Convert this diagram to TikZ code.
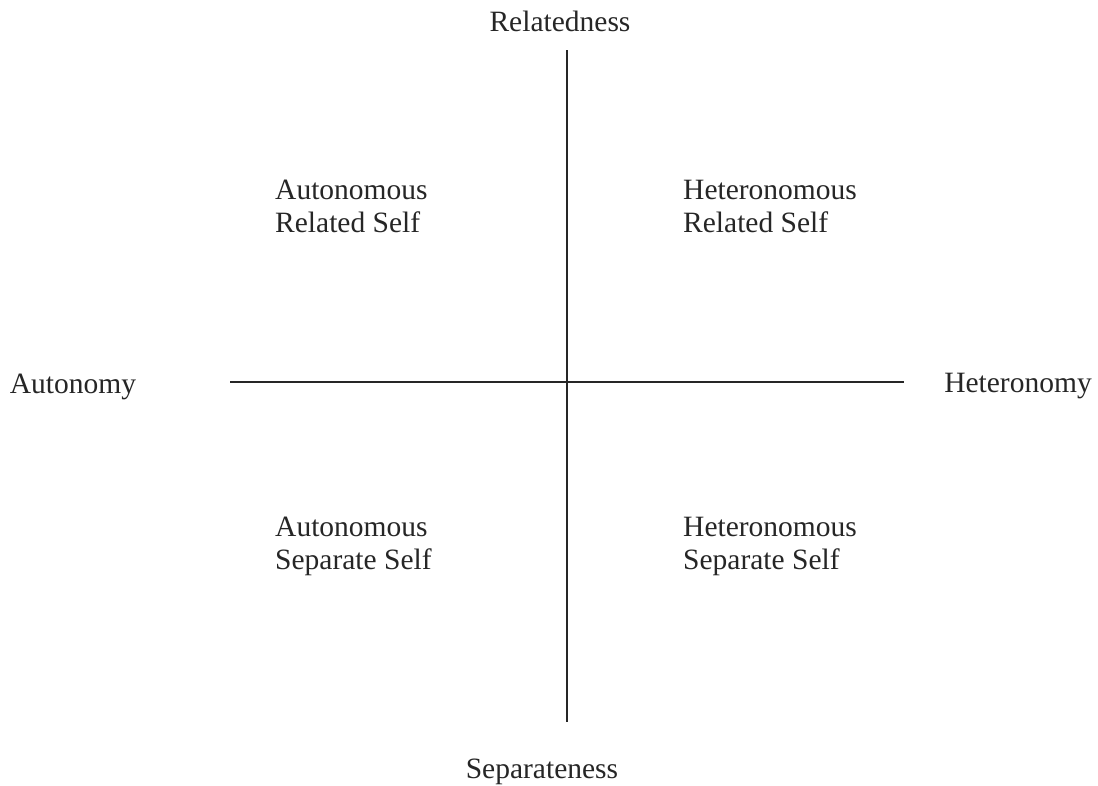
\documentclass[tikz,border=0pt]{standalone}
\usepackage{fontspec}
\setmainfont{Liberation Serif}
\begin{document}
\begin{tikzpicture}[x=1pt,y=-1pt,
  axis/.style={line width=1.4pt,draw=black!85},
  lbl/.style={inner sep=0pt,anchor=base,font=\fontsize{29.5}{33}\selectfont,text=black!85},
  qlbl/.style={inner sep=0pt,anchor=base west,font=\fontsize{29.5}{33}\selectfont,text=black!85}]
\useasboundingbox (0,0) rectangle (1098,785);
\coordinate (vtop) at (567,50);
\coordinate (vbot) at (567,722);
\coordinate (hl) at (230,382);
\coordinate (hr) at (904,382);
\draw[axis] (vtop) -- (vbot);
\draw[axis] (hl) -- (hr);
\node[lbl] (rel) at (560,31) {Relatedness};
\node[lbl] (sep) at (542,778) {Separateness};
\node[lbl] (aut) at (73,393) {Autonomy};
\node[lbl] (het) at (1018,392) {Heteronomy};
\node[qlbl] (arsA) at (275,199) {Autonomous};
\node[qlbl] (arsB) at (275,232) {Related Self};
\node[qlbl] (hrsA) at (683,199) {Heteronomous};
\node[qlbl] (hrsB) at (683,232) {Related Self};
\node[qlbl] (assA) at (275,536) {Autonomous};
\node[qlbl] (assB) at (275,569) {Separate Self};
\node[qlbl] (hssA) at (683,536) {Heteronomous};
\node[qlbl] (hssB) at (683,569) {Separate Self};
\end{tikzpicture}
\end{document}
